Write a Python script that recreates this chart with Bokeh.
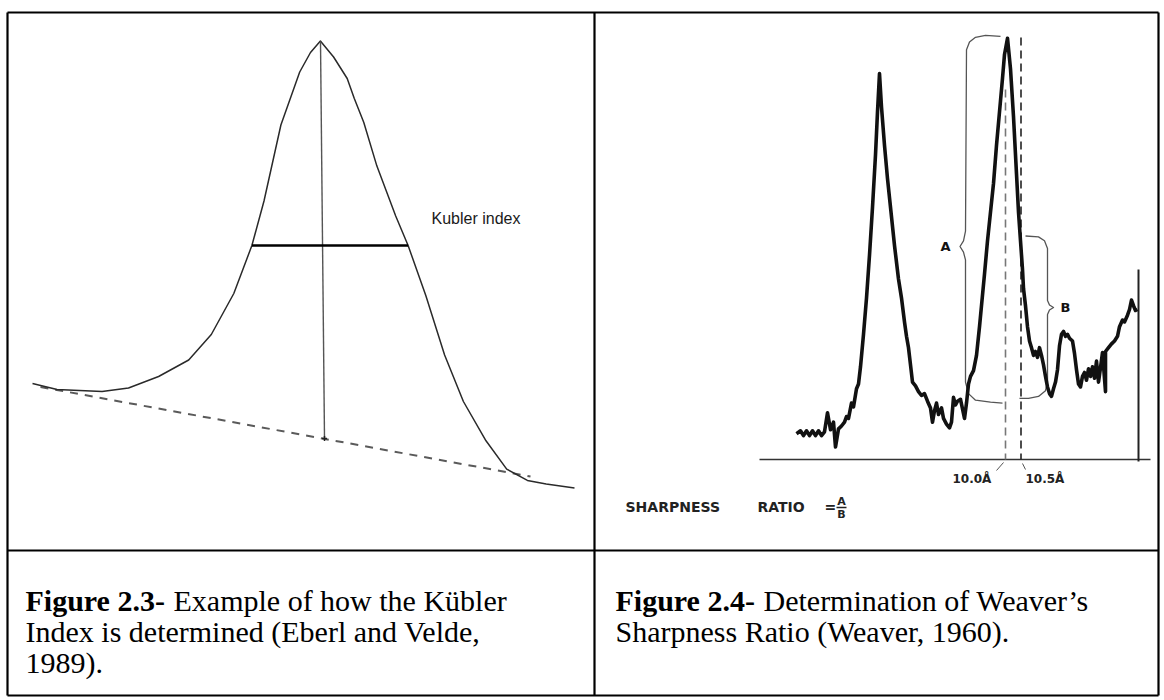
from bokeh.plotting import figure
from bokeh.models import Range1d
from bokeh.embed import file_html
from bokeh.resources import INLINE
from bokeh.core.properties import value

# ---------------- page frame (table rules) ----------------
frame_left, frame_right = 7, 1158
frame_top, frame_bottom = 12, 695
col_split = 594
row_split = 550

# ---------------- Figure 2.3 : Kubler peak ----------------
kubler_x = [32.0, 56.5, 101.6, 128.0, 158.1, 188.2, 210.8, 233.3, 251.4, 263.5,
            280.4, 299.2, 310.0, 319.9, 333.1, 346.7, 353.8, 363.3, 376.4, 395.2,
            407.6, 425.3, 444.1, 462.9, 485.5, 506.2, 526.9, 545.7, 574.0]
kubler_y = [383.0, 389.0, 391.0, 387.5, 376.0, 359.5, 334.0, 293.0, 245.0, 200.5,
            124.5, 71.5, 52.0, 40.6, 56.5, 78.0, 98.0, 122.0, 165.6, 215.5,
            245.0, 295.0, 354.5, 401.0, 440.3, 468.6, 479.9, 483.6, 487.4]
kubler_base_x = [40.0, 530.0]
kubler_base_y = [386.5, 476.0]
kubler_height_x = [320.0, 324.0]
kubler_height_y = [41.0, 438.0]
kubler_fwhm_x = [251.4, 407.6]
kubler_fwhm_y = [245.0, 245.0]
kubler_label = "Kubler index"
kubler_label_xy = (431, 218)

# ---------------- Figure 2.4 : Weaver trace ----------------
trace_x = [796, 800, 803, 806, 809, 812, 815, 818, 821, 824, 827, 830, 833, 835, 838,
           841, 844, 846, 848, 851, 853, 856, 858, 860, 863, 866, 869, 872, 875, 877,
           879, 881, 884, 887, 890, 894, 898, 901, 904, 906, 908, 910, 912, 915, 918,
           921, 924, 927, 930, 932, 934, 936, 938, 941, 943, 946, 949, 951, 953, 955,
           957, 960, 962, 964, 966, 968, 970, 973, 976, 979, 981, 984, 987, 990, 993,
           996, 999, 1002, 1004, 1007, 1010, 1013, 1016, 1018, 1020, 1022, 1023, 1025,
           1027, 1029, 1031, 1033, 1035, 1037, 1039, 1041, 1043, 1045, 1047, 1049, 1051,
           1053, 1055, 1057, 1059, 1061, 1063, 1065, 1067, 1069, 1072, 1074, 1076, 1078,
           1080, 1082, 1084, 1086, 1088, 1090, 1092, 1094, 1096, 1098, 1100, 1102, 1105,
           1105, 1108, 1111, 1114, 1117, 1119, 1122, 1124, 1127, 1129, 1131, 1133, 1135,
           1137]
trace_y = [433.2, 430.3, 435.1, 430.3, 435.1, 430.3, 435.1, 430.3, 435.1, 431.3, 412.2, 429.3, 421.7, 446.5, 428.4,
           425.5, 421.7, 416.0, 417.9, 402.6, 406.4, 388.3, 383.5, 366.3, 333.8, 297.6, 254.6, 206.8, 154.3, 111.3,
           73.1, 106.6, 144.8, 178.2, 206.8, 245.0, 278.5, 297.6, 321.4, 335.8, 347.2, 364.4, 381.6, 385.4, 391.1,
           395.0, 393.1, 400.7, 407.4, 421.7, 410.2, 402.6, 414.0, 407.4, 417.9, 423.6, 427.4, 421.7, 396.9, 404.5,
           400.7, 398.8, 408.3, 417.9, 402.6, 383.5, 375.9, 370.1, 354.9, 326.2, 305.2, 273.7, 240.3, 211.6, 183.0,
           144.8, 111.3, 77.9, 54.0, 37.8, 68.4, 116.1, 173.4, 211.6, 240.3, 268.9, 288.0, 305.2,
           326.2, 340.5, 347.2, 354.9, 351.0, 356.8, 347.2, 354.9, 364.4, 375.9, 386.4, 393.1, 395.9,
           388.3, 381.6, 369.2, 345.3, 333.8, 331.0, 335.8, 333.8, 337.7, 340.5, 352.9, 369.2, 383.5,
           386.4, 375.9, 372.0, 379.7, 368.2, 375.9, 366.3, 377.8, 360.6, 381.6, 367.3, 352.0, 391.1,
           351.0, 347.2, 343.4, 340.5, 335.8, 326.2, 319.5, 321.4, 314.7, 309.0, 299.5, 305.2, 310.0,
           309.0]
axis_x = [759, 1150]
axis_y = [459, 459]
end_bar_x = [1138, 1138]
end_bar_y = [269, 461]
d100_x = [1005, 1005]
d100_y = [89, 459]
d105_x = [1020.5, 1020.5]
d105_y = [37, 459]
brace_a_x = [1000, 985, 975, 969, 966, 965, 963, 959.5, 963, 965, 965, 968, 975, 990, 1002]
brace_a_y = [35.9, 34.9, 36.8, 41.6, 49.3, 230.7, 240.3, 246.0, 251.7, 259.4, 381.6, 393.1, 399.7, 401.6, 402.6]
brace_b_x = [1025, 1038, 1044, 1047, 1047, 1049, 1053, 1049, 1047, 1047, 1045, 1038, 1028, 1019]
brace_b_y = [235.5, 236.4, 240.3, 247.9, 300.0, 304.5, 307.0, 309.5, 314.0, 381.6, 390.2, 395.9, 397.8, 397.8]
tick_100_x = [1003, 996]
tick_100_y = [462, 470]
tick_105_x = [1022, 1025]
tick_105_y = [463, 469]
peak_labels = ["10.0Å", "10.5Å"]
peak_label_x = [952, 1025]
peak_label_y = [478, 478]
brace_labels = ["A", "B"]
brace_label_x = [945, 1065]
brace_label_y = [246, 307]

# ---------------- captions ----------------
cap_left_bold = "Figure 2.3-"
cap_left_lines = ["Example of how the Kübler", "Index is determined (Eberl and Velde,", "1989)."]
cap_right_bold = "Figure 2.4-"
cap_right_lines = ["Determination of Weaver’s", "Sharpness Ratio (Weaver, 1960)."]
cap_baselines = [600, 631, 662]

W, H = 1164, 700
p = figure(width=W, height=H, output_backend="svg", toolbar_location=None,
           x_range=Range1d(0, W), y_range=Range1d(H, 0), min_border=0)
p.axis.visible = False
p.grid.visible = False
p.outline_line_color = None
p.background_fill_color = "white"
p.border_fill_color = "white"

# table rules
p.segment(x0=[frame_left, frame_left, frame_left, frame_right, col_split, frame_left],
          y0=[frame_top, frame_bottom, frame_top, frame_top, frame_top, row_split],
          x1=[frame_right, frame_right, frame_left, frame_right, col_split, frame_right],
          y1=[frame_top, frame_bottom, frame_bottom, frame_bottom, frame_bottom, row_split],
          line_color="black", line_width=2.2)

# Kubler panel
p.line(kubler_base_x, kubler_base_y, line_color="#5a5a5a", line_width=2, line_dash="8 7")
p.line(kubler_x, kubler_y, line_color="#2a2a2a", line_width=1.5, line_join="round")
p.line(kubler_height_x, kubler_height_y, line_color="#555555", line_width=1.4)
p.line(kubler_fwhm_x, kubler_fwhm_y, line_color="black", line_width=2.5)
p.scatter([kubler_height_x[1]], [kubler_height_y[1]], marker="cross", size=5,
          line_color="#222222", line_width=1.5)
p.text(x=[kubler_label_xy[0]], y=[kubler_label_xy[1]], text=[kubler_label],
       text_font=value("Liberation Sans"), text_font_size="16px",
       text_baseline="middle", text_align="left", text_color="#1a1a1a")

# Weaver panel
p.line(axis_x, axis_y, line_color="#333333", line_width=1.5)
p.line(end_bar_x, end_bar_y, line_color="#222222", line_width=2)
p.line(d100_x, d100_y, line_color="#777777", line_width=1.6, line_dash="8 5")
p.line(d105_x, d105_y, line_color="#222222", line_width=1.6, line_dash="8 5")
p.line(brace_a_x, brace_a_y, line_color="#555555", line_width=1.3, line_join="round")
p.line(brace_b_x, brace_b_y, line_color="#555555", line_width=1.3, line_join="round")
p.line(tick_100_x, tick_100_y, line_color="#555555", line_width=1)
p.line(tick_105_x, tick_105_y, line_color="#555555", line_width=1)
p.line(trace_x, trace_y, line_color="#111111", line_width=3.6, line_join="round")

p.text(x=brace_label_x, y=brace_label_y, text=brace_labels, text_font=value("DejaVu Sans"),
       text_font_style="bold", text_font_size="13px", text_baseline="middle",
       text_align="center", text_color="#111111")
p.text(x=peak_label_x, y=peak_label_y, text=peak_labels, text_font=value("DejaVu Sans"),
       text_font_style="bold", text_font_size="12px", text_baseline="middle",
       text_align="left", text_color="#222222")
p.text(x=[625, 757, 824], y=[506, 506, 506], text=["SHARPNESS", "RATIO", "="],
       text_font=value("DejaVu Sans"), text_font_style="bold", text_font_size="14px",
       text_baseline="middle", text_align="left", text_color="#222222")
p.text(x=[841, 841], y=[500.5, 513.5], text=["A", "B"], text_font=value("DejaVu Sans"),
       text_font_style="bold", text_font_size="11px", text_baseline="middle",
       text_align="center", text_color="#222222")
p.line([836, 846], [507, 507], line_color="#222222", line_width=1.5)

# captions
p.text(x=[25, 615], y=[cap_baselines[0]] * 2, text=[cap_left_bold, cap_right_bold],
       text_font=value("Liberation Serif"), text_font_style="bold", text_font_size="30px",
       text_baseline="alphabetic", text_align="left", text_color="black")
p.text(x=[25 + 148, 615 + 148], y=[cap_baselines[0]] * 2,
       text=[cap_left_lines[0], cap_right_lines[0]],
       text_font=value("Liberation Serif"), text_font_size="30px",
       text_baseline="alphabetic", text_align="left", text_color="black")
p.text(x=[25, 25, 615], y=[cap_baselines[1], cap_baselines[2], cap_baselines[1]],
       text=[cap_left_lines[1], cap_left_lines[2], cap_right_lines[1]],
       text_font=value("Liberation Serif"), text_font_size="30px",
       text_baseline="alphabetic", text_align="left", text_color="black")

open("out.html", "w").write(file_html(p, INLINE))
